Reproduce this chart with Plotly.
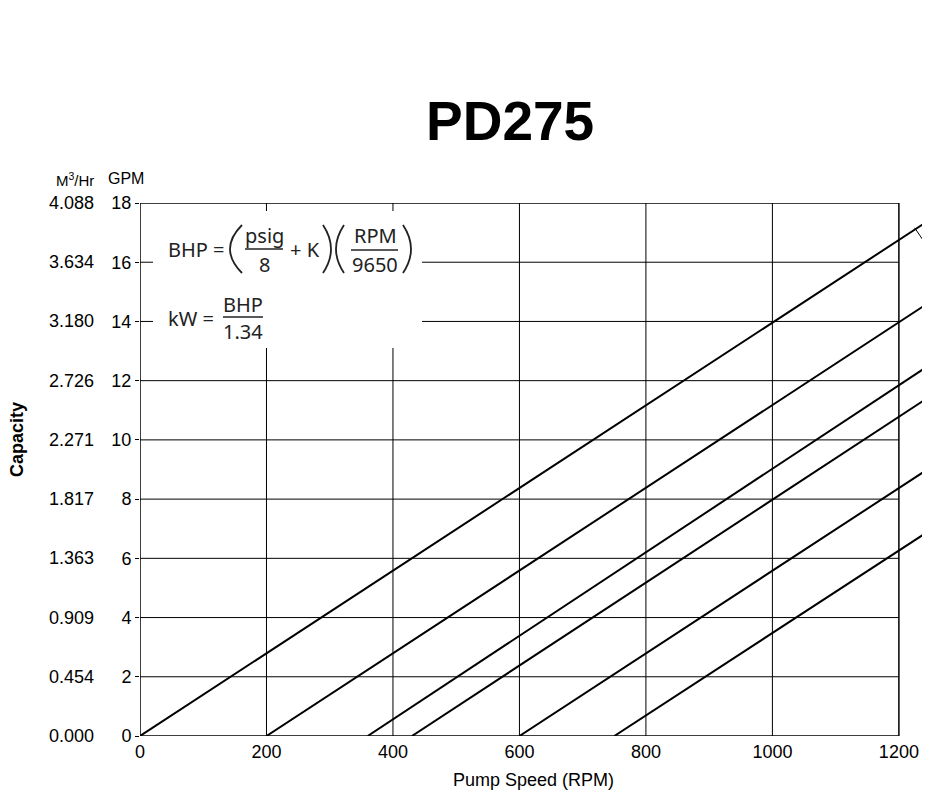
import plotly.graph_objects as go

# ---- data ----
gpm_ticks = [0, 2, 4, 6, 8, 10, 12, 14, 16, 18]
m3hr_labels = ["0.000", "0.454", "0.909", "1.363", "1.817", "2.271",
               "2.726", "3.180", "3.634", "4.088"]
rpm_ticks = [0, 200, 400, 600, 800, 1000, 1200]
# pressure curves: start speed (capacity 0) and capacity at 1250 RPM
line_start_rpm = [0, 200, 360, 430, 600, 750]
line_end_rpm = [1250, 1250, 1250, 1250, 1250, 1250]
line_end_gpm = [17.45, 14.67, 12.55, 11.48, 9.07, 6.96]

FONT = "Liberation Sans, Arial, sans-serif"
FFONT = "Noto Sans, Open Sans, sans-serif"

# page body has an 8px margin; compensate so the plot lands where wanted
OFF = 8
W, H = 930, 796
SX0, SX1, SY0, SY1 = 140, 930, 203, 736   # plot area on screen
L, T = SX0 - OFF, SY0 - OFF
R = W - (SX1 - OFF)
B = H - (SY1 - OFF)
PW, PH = SX1 - SX0, SY1 - SY0
XMAX = 1249.2
YMAX = 18


def px(x):  # screen pixel -> paper
    return (x - SX0) / PW


def py(y):
    return (SY1 - y) / PH


fig = go.Figure()

for x0, x1, y1 in zip(line_start_rpm, line_end_rpm, line_end_gpm):
    fig.add_trace(go.Scatter(x=[x0, x1], y=[0, y1], mode="lines",
                             line=dict(color="black", width=2),
                             hoverinfo="skip", showlegend=False))

shapes = []
# grid
for xv in rpm_ticks[1:-1]:
    shapes.append(dict(type="line", xref="x", yref="y", x0=xv, x1=xv, y0=0, y1=18,
                       line=dict(color="black", width=1), layer="below"))
for yv in gpm_ticks[1:-1]:
    shapes.append(dict(type="line", xref="x", yref="y", x0=0, x1=1200, y0=yv, y1=yv,
                       line=dict(color="black", width=1), layer="below"))
# white box behind formula (axis-referenced so it sits above the grid shapes)
shapes.append(dict(type="rect", xref="x", yref="y",
                   x0=px(153) * XMAX, x1=px(422) * XMAX,
                   y0=py(348) * YMAX, y1=py(211) * YMAX,
                   fillcolor="white", line=dict(width=0), layer="below"))
# frame
shapes.append(dict(type="rect", xref="x", yref="y", x0=0, x1=1200, y0=0, y1=18,
                   line=dict(color="black", width=1.5), layer="above"))
# leader line (cut-off label)
shapes.append(dict(type="line", xref="x", yref="y", x0=1225, y0=17.16, x1=1249, y1=16.41,
                   line=dict(color="black", width=1)))
# fraction bars
for xa, xb, yb in [(245, 283, 249), (351, 398, 250), (223, 263, 317)]:
    shapes.append(dict(type="line", xref="paper", yref="paper",
                       x0=px(xa), x1=px(xb), y0=py(yb), y1=py(yb),
                       line=dict(color="#222", width=1.3)))


# big parentheses drawn as curves
def paren(x_end, x_mid, y_top=225, y_bot=273):
    xc = 2 * x_mid - x_end
    ym = (y_top + y_bot) / 2
    return dict(type="path", xref="paper", yref="paper",
                path=f"M {px(x_end)},{py(y_top)} Q {px(xc)},{py(ym)} {px(x_end)},{py(y_bot)}",
                line=dict(color="#222", width=1.8))


shapes += [paren(242, 230), paren(323, 331), paren(344, 336), paren(403, 411)]

ann = []


def txt(text, x, y, size, family=FONT, xanchor="center", color="black", **kw):
    ann.append(dict(text=text, xref="paper", yref="paper", x=px(x), y=py(y),
                    xanchor=xanchor, yanchor="middle", showarrow=False,
                    font=dict(family=family, size=size, color=color), **kw))


# title
txt("<b>PD275</b>", 510, 121, 55)
# second axis labels
for v, lab in zip(gpm_ticks, m3hr_labels):
    ann.append(dict(text=lab, xref="paper", yref="y", x=px(96), y=v, xanchor="right",
                    yanchor="middle", showarrow=False,
                    font=dict(family=FONT, size=18, color="black")))
txt("M<sup>3</sup>/Hr", 96, 179, 15, xanchor="right")
txt("GPM", 126, 178, 16)
# axis titles
txt("Pump Speed (RPM)", 533, 780, 18)
txt("<b>Capacity</b>", 17, 440, 18, textangle=-90)


def ft(text, x, y, size=20, xanchor="center"):
    txt(text, x, y, size, family=FFONT, xanchor=xanchor, color="#222")


ft("BHP =", 166, 249, xanchor="left")
ft("psig", 264, 235)
ft("8", 264, 264)
ft("+ K", 305, 249)
ft("RPM", 375, 235)
ft("9650", 375, 264)
ft("kW =", 166, 318, xanchor="left")
ft("BHP", 243, 304)
ft("1.34", 243, 331)

fig.update_layout(
    width=W, height=H, margin=dict(l=L, r=R, t=T, b=B, pad=0),
    paper_bgcolor="white", plot_bgcolor="white",
    shapes=shapes, annotations=ann, showlegend=False,
    xaxis=dict(range=[0, XMAX], tickvals=rpm_ticks, ticktext=[str(v) for v in rpm_ticks],
               showgrid=False, zeroline=False, showline=False, ticks="",
               ticklabelstandoff=3,
               tickfont=dict(family=FONT, size=18, color="black")),
    yaxis=dict(range=[0, YMAX], tickvals=gpm_ticks, ticktext=[str(v) for v in gpm_ticks],
               showgrid=False, zeroline=False, showline=False, ticks="outside", ticklen=4,
               tickcolor="black", tickwidth=1,
               tickfont=dict(family=FONT, size=18, color="black")),
)

fig.write_html("out.html")
